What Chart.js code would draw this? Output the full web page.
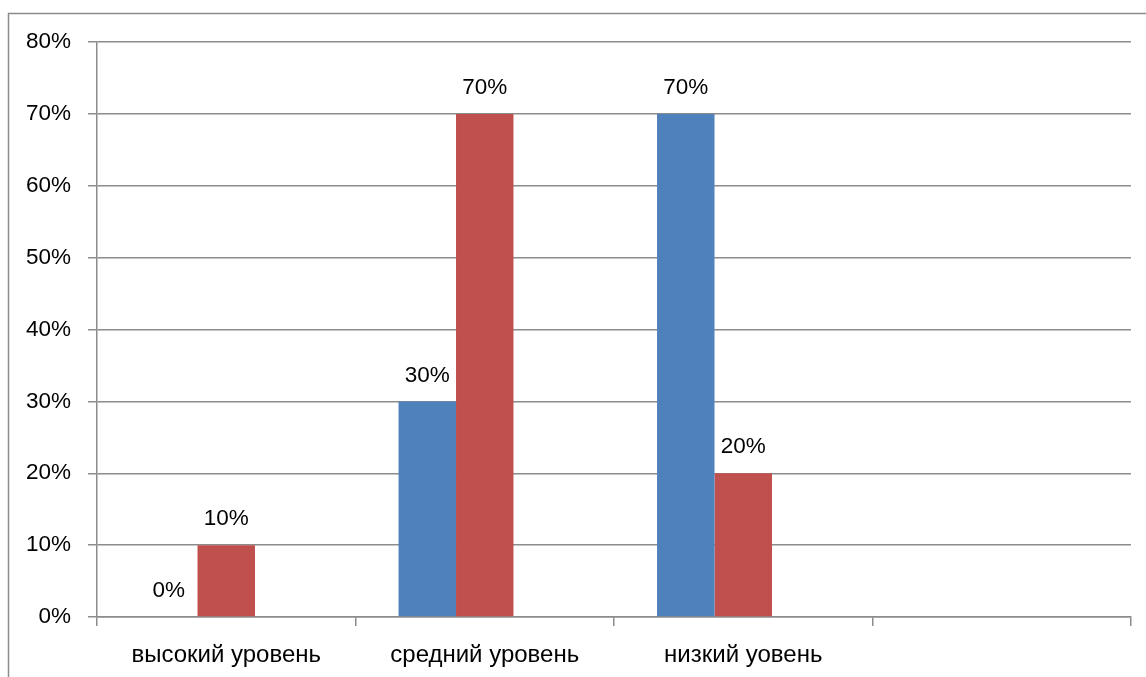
<!DOCTYPE html>
<html>
<head>
<meta charset="utf-8">
<script src="https://cdn.jsdelivr.net/npm/chart.js@4/dist/chart.umd.min.js"></script>
<style>
  html, body { margin: 0; padding: 0; background: #fff; }
  #wrap { width: 1146px; height: 677px; position: relative; }
</style>
</head>
<body>
<div id="wrap"><canvas id="c" width="1146" height="677"></canvas></div>
<script>
// Categories along the x axis (the last slot is left empty)
const categories = ['высокий уровень', 'средний уровень', 'низкий уовень', ''];
// Series values, in percent
const seriesBlue = [0, 30, 70, null];
const seriesRed = [10, 70, 20, null];
const seriesEmpty = [null, null, null, null];
// Value axis ticks
const yTicks = [0, 10, 20, 30, 40, 50, 60, 70, 80];

const FONT = "'Liberation Sans', Arial, sans-serif";
const GRID = '#8c8c8c';

// Outer frame of the chart object
const framePlugin = {
  id: 'frame',
  beforeDraw(chart) {
    const ctx = chart.ctx;
    ctx.save();
    ctx.strokeStyle = GRID;
    ctx.lineWidth = 1.5;
    ctx.beginPath();
    ctx.moveTo(8.5, 677);
    ctx.lineTo(8.5, 13.5);
    ctx.lineTo(1146, 13.5);
    ctx.stroke();
    ctx.restore();
  }
};

// Value labels above each bar
const valueLabels = {
  id: 'valueLabels',
  afterDatasetsDraw(chart) {
    const ctx = chart.ctx;
    ctx.save();
    ctx.font = '22.5px ' + FONT;
    ctx.fillStyle = '#000';
    ctx.textAlign = 'center';
    ctx.textBaseline = 'middle';
    chart.data.datasets.forEach((ds, i) => {
      const meta = chart.getDatasetMeta(i);
      meta.data.forEach((el, j) => {
        const v = ds.data[j];
        if (v === null || v === undefined) return;
        ctx.fillText(v + '%', el.x, el.y - 26);
      });
    });
    ctx.restore();
  }
};

new Chart(document.getElementById('c'), {
  type: 'bar',
  data: {
    labels: categories,
    datasets: [
      { data: seriesBlue, backgroundColor: '#4F81BD', borderWidth: 0 },
      { data: seriesRed, backgroundColor: '#C0504D', borderWidth: 0 },
      { data: seriesEmpty, backgroundColor: '#9BBB59', borderWidth: 0 }
    ]
  },
  options: {
    responsive: false,
    animation: false,
    events: [],
    layout: { padding: { left: 0, top: 42, right: 15, bottom: 0 } },
    datasets: { bar: { categoryPercentage: 0.667, barPercentage: 1 } },
    plugins: { legend: { display: false }, tooltip: { enabled: false } },
    scales: {
      x: {
        offset: true,
        grid: { offset: true, drawOnChartArea: false, drawTicks: true, tickLength: 9, color: GRID, lineWidth: 1.5 },
        border: { display: true, color: GRID, width: 1.5 },
        ticks: { color: '#000', font: { family: FONT, size: 24 }, padding: 15, maxRotation: 0 },
        afterFit(s) { s.height = 60; }
      },
      y: {
        min: 0,
        max: 80,
        afterBuildTicks(s) { s.ticks = yTicks.map(v => ({ value: v })); },
        grid: { color: GRID, lineWidth: 1.5, tickLength: 9, drawTicks: true },
        border: { display: true, color: GRID, width: 1.5 },
        ticks: { color: '#000', font: { family: FONT, size: 22.5 }, padding: 17, callback: v => v + '%' },
        afterFit(s) { s.width = 97; }
      }
    }
  },
  plugins: [framePlugin, valueLabels]
});
</script>
</body>
</html>
